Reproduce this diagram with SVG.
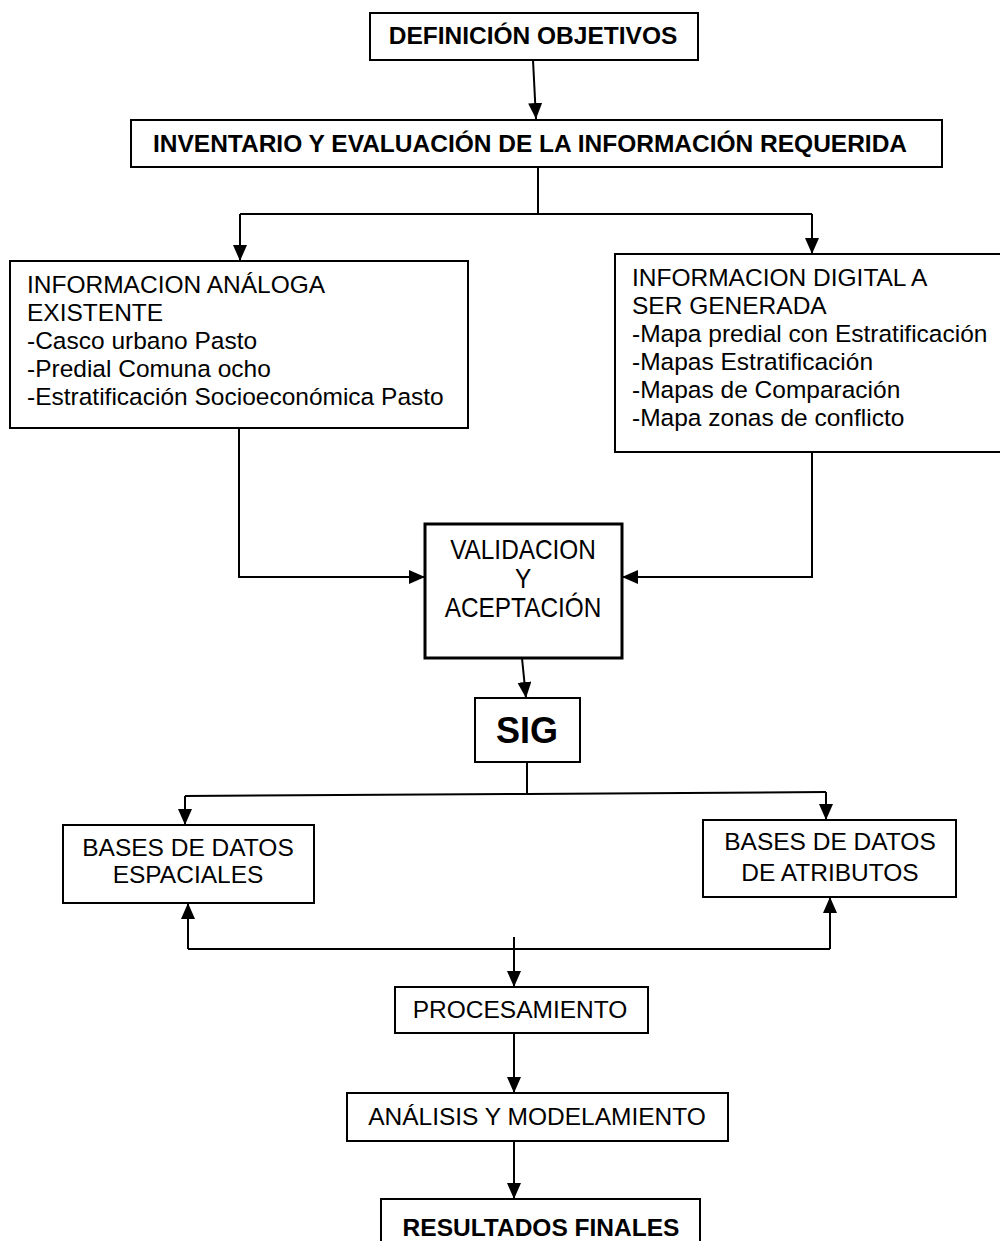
<svg xmlns="http://www.w3.org/2000/svg" width="1000" height="1241" viewBox="0 0 1000 1241">
<defs>
<marker id="ah" markerUnits="userSpaceOnUse" markerWidth="16" markerHeight="14" viewBox="0 0 16 14" refX="16" refY="7" orient="auto">
<path d="M0,0 L16,7 L0,14 Z" fill="#000"/>
</marker>
</defs>
<style>
.box{fill:#fff;stroke:#000;stroke-width:2}
.thick{stroke-width:3}
text{font-family:"Liberation Sans",Arial,sans-serif;fill:#000}
.t{font-size:24.5px}
.b{font-weight:bold}
.c{text-anchor:middle}
.ln{fill:none;stroke:#000;stroke-width:2}
.ar{marker-end:url(#ah)}
</style>
<rect width="1000" height="1241" fill="#fff"/>
<g id="connectors">
<path class="ln ar" d="M533,60 L536,119"/>
<path class="ln" d="M538,167 L538,214 M240,214 L812,214"/>
<path class="ln ar" d="M240,214 L240,261"/>
<path class="ln ar" d="M812,214 L812,254"/>
<path class="ln ar" d="M239,428 L239,577 L425,577"/>
<path class="ln ar" d="M812,452 L812,577 L622,577"/>
<path class="ln ar" d="M522,658 L526,698"/>
<path class="ln" d="M527,762 L527,794 M185,796 L527,794 L826,792"/>
<path class="ln ar" d="M185,796 L185,825"/>
<path class="ln ar" d="M826,792 L826,820"/>
<path class="ln ar" d="M188,949 L188,903"/>
<path class="ln ar" d="M830,949 L830,897"/>
<path class="ln" d="M188,949 L830,949"/>
<path class="ln ar" d="M514,937 L514,987"/>
<path class="ln ar" d="M514,1033 L514,1093"/>
<path class="ln ar" d="M514,1141 L514,1199"/>
</g>
<g id="n-definicion">
<rect class="box" x="370" y="13" width="328" height="47"/>
<text class="t b c" x="533" y="44">DEFINICIÓN OBJETIVOS</text>
</g>
<g id="n-inventario">
<rect class="box" x="131" y="120" width="811" height="47"/>
<text class="t b c" x="530" y="152">INVENTARIO Y EVALUACIÓN DE LA INFORMACIÓN REQUERIDA</text>
</g>
<g id="n-analoga">
<rect class="box" x="10" y="261" width="458" height="167"/>
<text class="t" x="27" y="293">INFORMACION ANÁLOGA</text>
<text class="t" x="27" y="321">EXISTENTE</text>
<text class="t" x="27" y="349">-Casco urbano Pasto</text>
<text class="t" x="27" y="377">-Predial Comuna ocho</text>
<text class="t" x="27" y="405">-Estratificación Socioeconómica Pasto</text>
</g>
<g id="n-digital">
<rect class="box" x="615" y="254" width="388" height="198"/>
<text class="t" x="632" y="286">INFORMACION DIGITAL A</text>
<text class="t" x="632" y="314">SER GENERADA</text>
<text class="t" x="632" y="342">-Mapa predial con Estratificación</text>
<text class="t" x="632" y="370">-Mapas Estratificación</text>
<text class="t" x="632" y="398">-Mapas de Comparación</text>
<text class="t" x="632" y="426">-Mapa zonas de conflicto</text>
</g>
<g id="n-validacion">
<rect class="box thick" x="425" y="524" width="197" height="134"/>
<text class="c" font-size="28" transform="translate(523,559) scale(0.87,1)">VALIDACION</text>
<text class="c" font-size="28" transform="translate(523,588) scale(0.87,1)">Y</text>
<text class="c" font-size="28" transform="translate(523,617) scale(0.87,1)">ACEPTACIÓN</text>
</g>
<g id="n-sig">
<rect class="box" x="475" y="698" width="105" height="64"/>
<text class="b c" x="527" y="743" font-size="36">SIG</text>
</g>
<g id="n-espaciales">
<rect class="box" x="63" y="825" width="251" height="78"/>
<text class="t c" x="188" y="856">BASES DE DATOS</text>
<text class="t c" x="188" y="883">ESPACIALES</text>
</g>
<g id="n-atributos">
<rect class="box" x="703" y="820" width="253" height="77"/>
<text class="t c" x="830" y="850">BASES DE DATOS</text>
<text class="t c" x="830" y="881">DE ATRIBUTOS</text>
</g>
<g id="n-procesamiento">
<rect class="box" x="395" y="987" width="253" height="46"/>
<text class="t c" x="520" y="1018">PROCESAMIENTO</text>
</g>
<g id="n-analisis">
<rect class="box" x="347" y="1093" width="381" height="48"/>
<text class="t c" x="537" y="1125">ANÁLISIS Y MODELAMIENTO</text>
</g>
<g id="n-resultados">
<rect class="box" x="381" y="1199" width="319" height="60"/>
<text class="t b c" x="541" y="1236">RESULTADOS FINALES</text>
</g>
</svg>
